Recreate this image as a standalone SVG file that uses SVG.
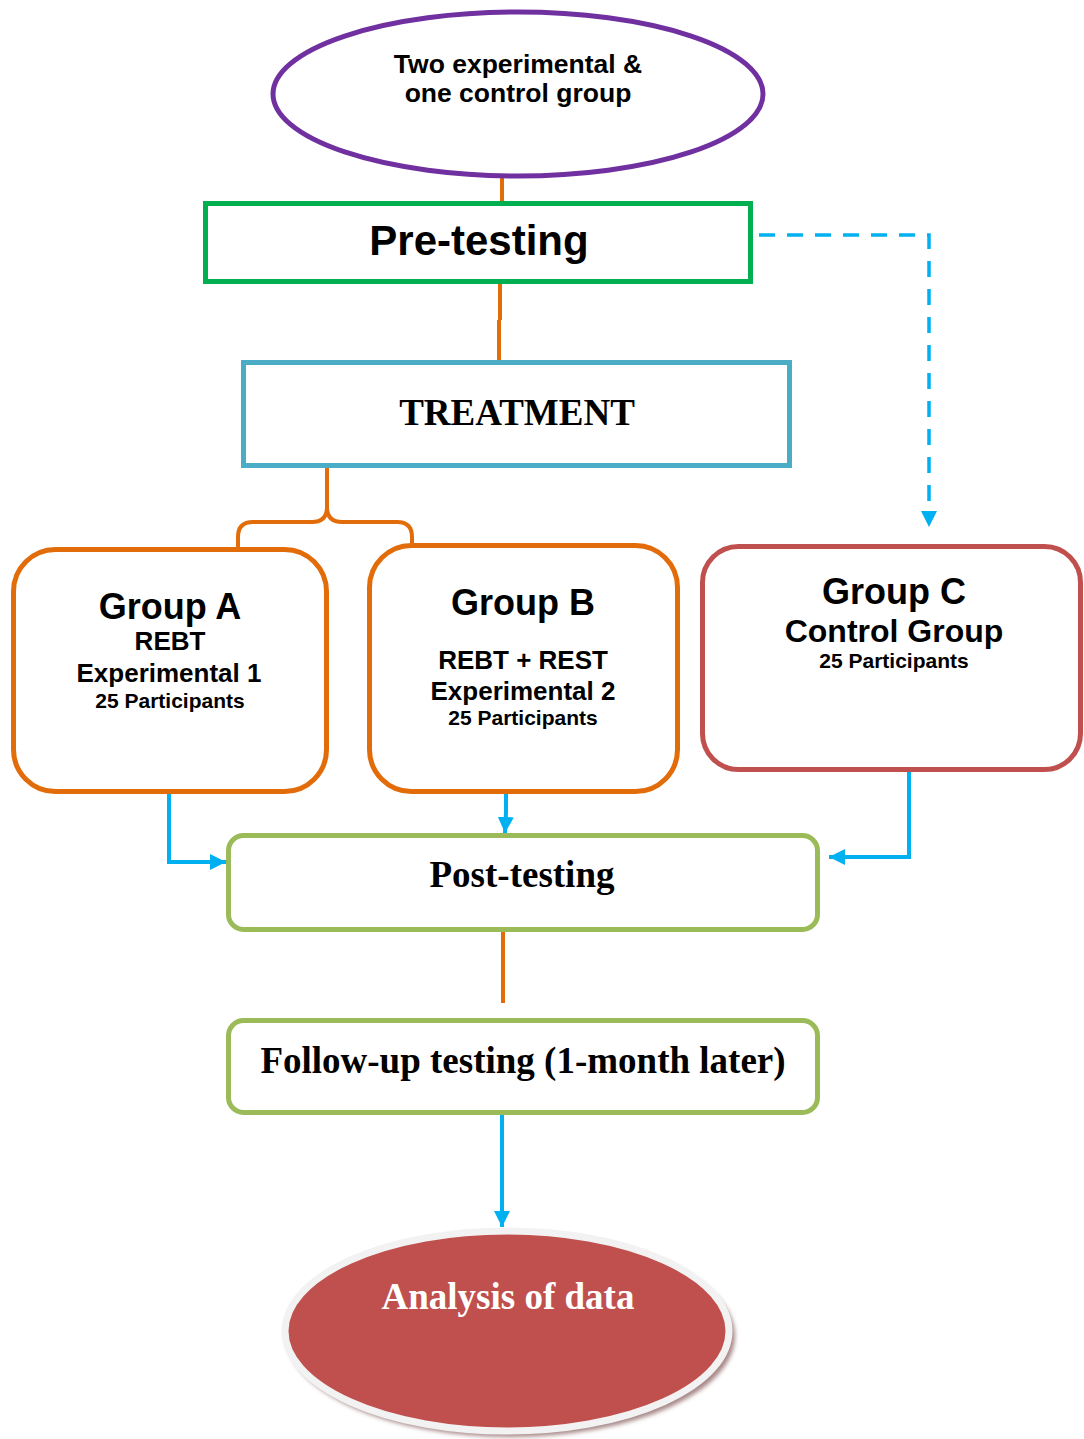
<svg xmlns="http://www.w3.org/2000/svg" width="1084" height="1439" viewBox="0 0 1084 1439">
<style>
.sans{font-family:"Liberation Sans",Arial,sans-serif;font-weight:bold;fill:#000;text-anchor:middle}
.serif{font-family:"Liberation Serif","Times New Roman",serif;font-weight:bold;fill:#000;text-anchor:middle}
.orange{fill:none;stroke:#E36C0A;stroke-width:4}
.blue{fill:none;stroke:#00B0F0;stroke-width:4}
</style>
<defs>
<marker id="ah" viewBox="0 0 10 10" refX="10" refY="5" markerWidth="16" markerHeight="16" markerUnits="userSpaceOnUse" orient="auto">
<path d="M0,0 L10,5 L0,10 Z" fill="#00B0F0"/>
</marker>
<filter id="blur" x="-10%" y="-10%" width="120%" height="120%"><feGaussianBlur stdDeviation="2"/></filter>
</defs>
<rect width="1084" height="1439" fill="#fff"/>

<g id="connectors">
<path class="orange" d="M502,178 L502,203"/>
<path class="orange" d="M500,282 L500,320 M499,320 L499,360"/>
<path class="orange" d="M327,466 L327,507"/>
<path class="orange" d="M238,547 L238,537 Q238,522 253,522 L312,522 Q327,522 327,507 Q327,522 342,522 L397,522 Q412,522 412,537 L412,546"/>
<path d="M759,235 L929,235 L929,512" fill="none" stroke="#00B0F0" stroke-width="3.5" stroke-dasharray="16,12"/>
<path d="M929,511 L929,527" fill="none" stroke="#00B0F0" stroke-width="0.1" marker-end="url(#ah)"/>
<path class="blue" d="M169,793 L169,862 L226,862" marker-end="url(#ah)"/>
<path class="blue" d="M506,793 L506,812 L505,833" marker-end="url(#ah)"/>
<path class="blue" d="M909,771 L909,857 L829,857" marker-end="url(#ah)"/>
<path class="orange" d="M503,931 L503,950 M503,950 L503,1003"/>
<path class="blue" d="M502,1114 L502,1227" marker-end="url(#ah)"/>
</g>

<g id="start">
<ellipse cx="518" cy="94" rx="245" ry="82" fill="#fff" stroke="#7030A0" stroke-width="5"/>
<text class="sans" x="518" y="73" font-size="26.5">Two experimental &amp;</text>
<text class="sans" x="518" y="102" font-size="26.5">one control group</text>
</g>

<g id="pretesting">
<rect x="205.5" y="203.5" width="545" height="78" fill="#fff" stroke="#00B050" stroke-width="5"/>
<text class="sans" x="479" y="255" font-size="42">Pre-testing</text>
</g>

<g id="treatment">
<rect x="243.5" y="362.5" width="546" height="103" fill="#fff" stroke="#4BACC6" stroke-width="5"/>
<text class="serif" x="517" y="425" font-size="37">TREATMENT</text>
</g>

<g id="groupA">
<rect x="13.5" y="549.5" width="313" height="242" rx="42" fill="#fff" stroke="#E36C0A" stroke-width="5"/>
<text class="sans" x="170" y="619" font-size="36">Group A</text>
<text class="sans" x="170" y="650" font-size="26">REBT</text>
<text class="sans" x="169" y="682" font-size="26">Experimental 1</text>
<text class="sans" x="170" y="708" font-size="21">25 Participants</text>
</g>

<g id="groupB">
<rect x="369.5" y="545.5" width="308" height="246" rx="42" fill="#fff" stroke="#E36C0A" stroke-width="5"/>
<text class="sans" x="523" y="615" font-size="36">Group B</text>
<text class="sans" x="523" y="669" font-size="26">REBT + REST</text>
<text class="sans" x="523" y="700" font-size="26">Experimental 2</text>
<text class="sans" x="523" y="725" font-size="21">25 Participants</text>
</g>

<g id="groupC">
<rect x="702.5" y="546.5" width="378" height="223" rx="36" fill="#fff" stroke="#C0504D" stroke-width="5"/>
<text class="sans" x="894" y="604" font-size="36">Group C</text>
<text class="sans" x="894" y="642" font-size="32">Control Group</text>
<text class="sans" x="894" y="668" font-size="21">25 Participants</text>
</g>

<g id="posttesting">
<rect x="228.5" y="835.5" width="589" height="94" rx="15" fill="#fff" stroke="#9BBB59" stroke-width="5"/>
<text class="serif" x="522" y="887" font-size="37">Post-testing</text>
</g>

<g id="followup">
<rect x="228.5" y="1020.5" width="589" height="92" rx="15" fill="#fff" stroke="#9BBB59" stroke-width="5"/>
<text class="serif" x="523" y="1073" font-size="37">Follow-up testing (1-month later)</text>
</g>

<g id="analysis">
<ellipse cx="511" cy="1336" rx="224" ry="101" fill="#A88888" filter="url(#blur)"/>
<ellipse cx="507" cy="1331" rx="222" ry="100" fill="#C0504D" stroke="#F2F2F2" stroke-width="7"/>
<text class="serif" x="508" y="1309" font-size="37" style="fill:#fff">Analysis of data</text>
</g>
</svg>
